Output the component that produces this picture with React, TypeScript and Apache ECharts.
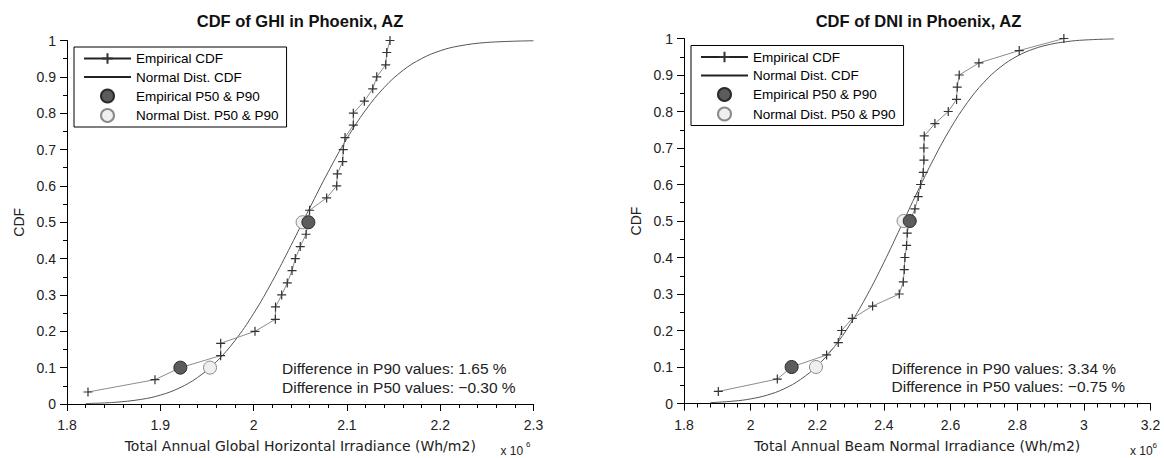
import React, { useEffect, useRef } from "react";
import * as echarts from "echarts";

// ---------- data ----------
const CDF_LEVELS = [
  0.033, 0.067, 0.1, 0.133, 0.167, 0.2, 0.233, 0.267, 0.3, 0.333,
  0.367, 0.4, 0.433, 0.467, 0.5, 0.533, 0.567, 0.6, 0.633, 0.667,
  0.7, 0.733, 0.767, 0.8, 0.833, 0.867, 0.9, 0.933, 0.967, 1.0,
];

const GHI_EMPIRICAL_X = [
  1.8225, 1.8943, 1.9215, 1.9647, 1.9647, 2.0015, 2.0233, 2.0235, 2.0301, 2.0361,
  2.0412, 2.0447, 2.05, 2.0562, 2.0587, 2.06, 2.0783, 2.0891, 2.0897, 2.0955,
  2.0961, 2.098, 2.1069, 2.1069, 2.1187, 2.1277, 2.132, 2.1416, 2.1427, 2.1462,
];

const DNI_EMPIRICAL_X = [
  1.903, 2.08, 2.123, 2.228, 2.263, 2.273, 2.305, 2.366, 2.446, 2.458,
  2.461, 2.463, 2.468, 2.47, 2.4775, 2.493, 2.503, 2.51, 2.518, 2.52,
  2.52, 2.521, 2.553, 2.593, 2.618, 2.62, 2.626, 2.685, 2.806, 2.94,
];

const GHI_NORMAL_X = [
  1.82, 1.85, 1.88, 1.9, 1.92, 1.94, 1.96, 1.98, 2.0, 2.02, 2.04,
  2.06, 2.08, 2.1, 2.12, 2.14, 2.16, 2.18, 2.2, 2.22, 2.25, 2.3,
];
const GHI_NORMAL_CDF = [
  0.0013, 0.0044, 0.0129, 0.0244, 0.0435, 0.0731, 0.116, 0.1744, 0.2488, 0.3373, 0.4358,
  0.5386, 0.6388, 0.7303, 0.8084, 0.8708, 0.9176, 0.9502, 0.9717, 0.9848, 0.9946, 0.9993,
];

const DNI_NORMAL_X = [
  1.88, 1.95, 2.0, 2.05, 2.1, 2.15, 2.2, 2.25, 2.3, 2.35, 2.4, 2.45,
  2.5, 2.55, 2.6, 2.65, 2.7, 2.75, 2.8, 2.85, 2.9, 2.95, 3.0, 3.09,
];
const DNI_NORMAL_CDF = [
  0.0024, 0.0066, 0.0126, 0.0231, 0.0401, 0.0661, 0.1035, 0.1541, 0.2192, 0.2977, 0.3867, 0.4825,
  0.5792, 0.6713, 0.754, 0.8241, 0.8799, 0.9219, 0.9517, 0.9716, 0.9842, 0.9916, 0.9958, 0.9989,
];

const P_LEVELS = [0.1, 0.5];
const GHI_EMPIRICAL_P = [1.9215, 2.0587];
const GHI_NORMAL_P = [1.9533, 2.0525];
const DNI_EMPIRICAL_P = [2.123, 2.4775];
const DNI_NORMAL_P = [2.196, 2.459];

const TITLES = ["CDF of GHI in Phoenix, AZ", "CDF of DNI in Phoenix, AZ"];
const X_NAMES = [
  "Total Annual Global Horizontal Irradiance (Wh/m2)",
  "Total Annual Beam Normal Irradiance (Wh/m2)",
];
const Y_NAME = "CDF";
const GHI_NOTES = ["Difference in P90 values: 1.65 %", "Difference in P50 values: \u22120.30 %"];
const DNI_NOTES = ["Difference in P90 values: 3.34 %", "Difference in P50 values: \u22120.75 %"];
const LEGEND_NAMES = [
  "Empirical CDF",
  "Normal Dist. CDF",
  "Empirical P50 & P90",
  "Normal Dist. P50 & P90",
];
const X_RANGES = [
  { min: 1.8, max: 2.3, interval: 0.1 },
  { min: 1.8, max: 3.2, interval: 0.2 },
];

// ---------- styling ----------
const FONT = "Liberation Sans, Arial, sans-serif";
const WIDE_FONT = "DejaVu Sans, Liberation Sans, sans-serif";
const PLUS = "path://M5,0 L5,10 M0,5 L10,5";

const zip = (xs: number[], ys: number[]) => xs.map((x, i) => [x, ys[i]]);

function buildOption() {
  const grids = [
    { left: 67, top: 40.5, width: 466.5, height: 365 },
    { left: 684, top: 38.5, width: 466.5, height: 365 },
  ];

  const xAxis = X_RANGES.map((r, i) => ({
    type: "value",
    gridIndex: i,
    min: r.min,
    max: r.max,
    interval: r.interval,
    name: X_NAMES[i],
    nameLocation: "middle",
    nameGap: 35,
    nameTextStyle: { fontFamily: WIDE_FONT, fontSize: 14, color: "#222" },
    axisLine: { show: true, onZero: false, lineStyle: { color: "#000", width: 1 } },
    axisTick: { show: true, length: 7, lineStyle: { color: "#000" } },
    minorTick: { show: true, splitNumber: 5, length: 4, lineStyle: { color: "#000" } },
    splitLine: { show: false },
    axisLabel: { fontFamily: FONT, fontSize: 14, color: "#222", margin: 14 },
  }));

  const yAxis = [0, 1].map((i) => ({
    type: "value",
    gridIndex: i,
    min: 0,
    max: 1,
    interval: 0.1,
    name: Y_NAME,
    nameLocation: "middle",
    nameGap: 41,
    nameTextStyle: { fontFamily: FONT, fontSize: 14, color: "#222" },
    axisLine: { show: true, lineStyle: { color: "#000", width: 1 } },
    axisTick: { show: true, length: 7, lineStyle: { color: "#000" } },
    minorTick: { show: true, splitNumber: 2, length: 4, lineStyle: { color: "#000" } },
    splitLine: { show: false },
    axisLabel: { fontFamily: FONT, fontSize: 14, color: "#222", margin: 11 },
  }));

  const sets = [
    { emp: GHI_EMPIRICAL_X, nx: GHI_NORMAL_X, ny: GHI_NORMAL_CDF, ep: GHI_EMPIRICAL_P, np: GHI_NORMAL_P },
    { emp: DNI_EMPIRICAL_X, nx: DNI_NORMAL_X, ny: DNI_NORMAL_CDF, ep: DNI_EMPIRICAL_P, np: DNI_NORMAL_P },
  ];

  const series: any[] = [];
  sets.forEach((s, i) => {
    series.push({
      name: LEGEND_NAMES[0],
      type: "line",
      xAxisIndex: i,
      yAxisIndex: i,
      data: zip(s.emp, CDF_LEVELS),
      symbol: PLUS,
      symbolSize: 9,
      showSymbol: true,
      lineStyle: { color: "#8c8c8c", width: 1 },
      itemStyle: { color: "#333", borderColor: "#333", borderWidth: 1.2 },
      z: 3,
    });
    series.push({
      name: LEGEND_NAMES[1],
      type: "line",
      xAxisIndex: i,
      yAxisIndex: i,
      data: zip(s.nx, s.ny),
      smooth: 0.4,
      symbol: "none",
      lineStyle: { color: "#555", width: 1 },
      itemStyle: { color: "#555" },
      z: 2,
    });
    series.push({
      name: LEGEND_NAMES[3],
      type: "scatter",
      xAxisIndex: i,
      yAxisIndex: i,
      data: zip(s.np, P_LEVELS),
      symbol: "circle",
      symbolSize: 13,
      itemStyle: { color: "#efefef", borderColor: "#8a8a8a", borderWidth: 1, opacity: 1 },
      z: 4,
    });
    series.push({
      name: LEGEND_NAMES[2],
      type: "scatter",
      xAxisIndex: i,
      yAxisIndex: i,
      data: zip(s.ep, P_LEVELS),
      symbol: "circle",
      symbolSize: 13,
      itemStyle: { color: "#5c5c5c", borderColor: "#2a2a2a", borderWidth: 1, opacity: 1 },
      z: 5,
    });
  });

  const legendData = [
    { name: LEGEND_NAMES[0], lineStyle: { color: "#222" } },
    { name: LEGEND_NAMES[1], itemStyle: { opacity: 0 }, lineStyle: { color: "#222", opacity: 1 } },
    { name: LEGEND_NAMES[2] },
    { name: LEGEND_NAMES[3] },
  ];

  const legendBase = {
    orient: "vertical",
    data: legendData,
    selectedMode: false,
    itemWidth: 47,
    itemHeight: 13,
    itemGap: 4.5,
    padding: [4.5, 8, 4, 9],
    borderColor: "#000",
    borderWidth: 1,
    borderRadius: 0,
    backgroundColor: "#fff",
    textStyle: { fontFamily: FONT, fontSize: 13.5, color: "#000" },
  };
  const legend = [
    { ...legendBase, left: 74, top: 47 },
    { ...legendBase, left: 691, top: 45.5 },
  ];

  const txt = (x: number, y: number, text: string, extra: any = {}) => ({
    type: "text",
    x,
    y,
    silent: true,
    style: {
      text,
      fontFamily: FONT,
      fontSize: 15.5,
      fill: "#222",
      align: "left",
      verticalAlign: "middle",
      ...extra,
    },
  });

  const graphic = [
    txt(300, 21, TITLES[0], { align: "center", fontWeight: "bold", fontSize: 16.5, fill: "#111" }),
    txt(918.5, 21, TITLES[1], { align: "center", fontWeight: "bold", fontSize: 16.5, fill: "#111" }),
    txt(282, 368.5, GHI_NOTES[0]),
    txt(282, 387.5, GHI_NOTES[1]),
    txt(891.5, 368.5, DNI_NOTES[0]),
    txt(891.5, 386, DNI_NOTES[1]),
    txt(500.5, 451, "x 10", { fontSize: 12 }),
    txt(526, 444, "6", { fontSize: 8 }),
    txt(1130, 451, "x 10", { fontSize: 12 }),
    txt(1152.5, 445, "6", { fontSize: 8 }),
  ];

  return {
    animation: false,
    backgroundColor: "#fff",
    grid: grids,
    xAxis,
    yAxis,
    legend,
    series,
    graphic,
  };
}

export default function App() {
  const ref = useRef<HTMLDivElement>(null);
  useEffect(() => {
    if (!ref.current) return;
    const chart = echarts.init(ref.current, undefined, { renderer: "svg" });
    chart.setOption(buildOption() as any);
    return () => chart.dispose();
  }, []);
  return (
    <div
      ref={ref}
      style={{ position: "absolute", left: 0, top: 0, width: 1164, height: 458 }}
    />
  );
}
